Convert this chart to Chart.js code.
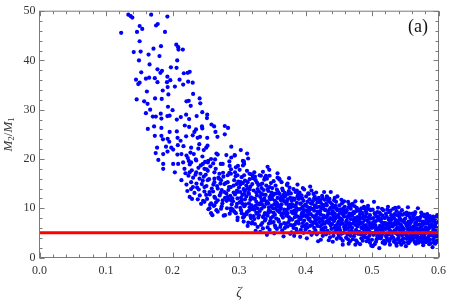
<!DOCTYPE html>
<html>
<head>
<meta charset="utf-8">
<script src="https://cdn.jsdelivr.net/npm/chart.js@4.4.0/dist/chart.umd.min.js"></script>
<style>
  html, body { margin: 0; padding: 0; background: #fff; }
</style>
</head>
<body>
<canvas id="canvas" width="452" height="302"></canvas>
<script>
// tick labels
const zetaTicks = [0, 0.1, 0.2, 0.3, 0.4, 0.5, 0.6];
const ratioTicks = [0, 10, 20, 30, 40, 50];
const zetaMinorStep = 0.02;
const ratioMinorStep = 2;

// red reference line M2/M1 = 5
const lineZeta = [0, 0.6];
const lineRatio = [5, 5];

// points, as zeta, ratio pairs
// sparse upper part of the cloud
const upperPoints = [
  0.1336,49.3, 0.1372,49.0, 0.1396,48.7, 0.1679,49.3, 0.1923,48.9, 0.1228,45.6, 0.1506,47.0, 0.1545,46.4,
  0.1466,45.8, 0.1753,47.1, 0.1778,47.4, 0.1887,45.8, 0.1506,43.9, 0.1417,41.7, 0.1521,41.8, 0.1714,42.4,
  0.1827,42.9, 0.2057,43.2, 0.2086,42.7, 0.2090,42.2, 0.2155,42.2, 0.1640,41.2, 0.1804,40.9, 0.1496,40.0,
  0.2071,40.0, 0.1655,39.2, 0.1976,38.6, 0.2061,38.5, 0.1774,38.2, 0.1530,37.6, 0.1842,37.9, 0.1818,37.5,
  0.2170,37.4, 0.2229,37.5, 0.2259,37.7, 0.1451,36.1, 0.1506,35.5, 0.1485,35.2, 0.1600,36.3, 0.1649,36.5,
  0.1734,36.4, 0.1774,35.6, 0.1923,36.7, 0.1967,36.0, 0.1917,35.6, 0.2106,36.1, 0.2161,35.1, 0.2235,35.7,
  0.2304,35.5, 0.2036,34.7, 0.1927,34.6, 0.1853,33.9, 0.1938,33.1, 0.1615,33.7, 0.2310,33.2, 0.2244,31.8,
  0.2408,32.3, 0.1461,32.1, 0.1574,31.7, 0.1625,31.2, 0.1838,32.2, 0.1738,32.3, 0.1932,30.6, 0.2210,31.7,
  0.2418,31.3, 0.2274,30.8, 0.2001,29.9, 0.1664,30.0, 0.1600,29.3, 0.1749,28.6, 0.1704,28.6, 0.1823,29.2,
  0.1833,28.2, 0.1923,28.7, 0.1957,28.8, 0.2125,28.5, 0.2065,28.0, 0.2205,29.0, 0.2363,28.7, 0.2448,29.5,
  0.2522,29.0, 0.2250,28.1, 0.1629,26.1, 0.1723,26.6, 0.1833,26.3, 0.1957,25.5, 0.2065,25.6, 0.2185,26.8,
  0.2250,26.5, 0.2354,26.0, 0.2443,26.6, 0.2586,27.0, 0.2626,26.6, 0.2676,24.5, 0.1734,24.7, 0.1833,24.7,
  0.1857,24.0, 0.1927,24.1, 0.1952,23.5, 0.2076,24.3, 0.2121,23.7, 0.2205,24.6, 0.2304,24.8, 0.2329,25.5,
  0.2378,24.3, 0.2522,24.3, 0.2507,22.3, 0.1768,22.3, 0.1902,22.5, 0.1982,22.3, 0.2080,22.8, 0.2165,22.6,
  0.2280,22.3, 0.2388,22.1, 0.2518,28.3, 0.2448,26.2, 0.2646,25.5, 0.2786,26.7, 0.2835,26.3, 0.2786,25.0,
  0.2884,22.5, 0.2414,24.5, 0.2403,23.0, 0.2470,21.8, 0.2527,22.7, 0.3122,21.1, 0.3137,20.1, 0.3430,18.4,
  0.3455,17.8, 0.3579,17.1, 0.3753,16.1, 0.2661,21.1, 0.2810,20.8, 0.2884,20.3, 0.2935,20.8, 0.3073,19.5,
  0.2537,19.6, 0.2612,19.1, 0.2726,19.0, 0.2860,18.6, 0.2984,18.6, 0.3058,19.6, 0.3158,17.0, 0.3207,16.6,
  0.3330,16.6, 0.3405,16.6, 0.3604,16.0
];

// middle part, zeta 0.17 - 0.31
const middlePoints = [
  0.1747,21.2, 0.1860,21.0, 0.1925,21.5, 0.2010,21.9, 0.2074,20.9, 0.2134,21.0, 0.2210,20.7, 0.2270,21.3,
  0.2680,20.9, 0.2937,20.7, 0.3027,21.8, 0.1787,19.8, 0.1860,19.0, 0.2010,19.0, 0.2085,19.0, 0.2160,19.3,
  0.2280,19.3, 0.2357,19.7, 0.2457,19.0, 0.2530,19.3, 0.2580,20.0, 0.2755,19.0, 0.2855,19.5, 0.2953,18.3,
  0.3077,19.0, 0.1860,18.0, 0.2035,17.3, 0.2180,18.0, 0.2258,17.3, 0.2357,17.3, 0.2480,18.0, 0.2630,17.3,
  0.2705,17.0, 0.2878,17.0, 0.2977,16.7, 0.3077,16.7, 0.2134,15.7, 0.2280,15.3, 0.2407,16.0, 0.2530,15.7,
  0.2630,16.0, 0.2730,15.7, 0.2830,15.3, 0.2928,15.7, 0.3027,15.3, 0.2223,13.5, 0.2307,14.3, 0.2480,14.3,
  0.2556,13.3, 0.2680,14.0, 0.2780,13.3, 0.2878,14.3, 0.2977,13.3, 0.3077,13.7, 0.2258,12.3, 0.2506,12.7,
  0.2630,12.3, 0.2830,12.3, 0.2977,12.0, 0.2293,11.9, 0.2480,11.3, 0.2556,10.0, 0.2630,10.6, 0.2680,9.3,
  0.2580,9.0, 0.2790,8.6, 0.2878,10.0, 0.2977,7.6, 0.2953,9.0, 0.3077,8.3, 0.2755,11.6, 0.2878,11.6,
  0.3027,11.3,
  0.221,14.8, 0.224,16.6, 0.226,18.9, 0.228,13.9, 0.223,20.2, 0.229,17.7,
  0.231,16.2, 0.233,13.1, 0.235,19.9, 0.236,15.0, 0.238,11.8, 0.239,18.2, 0.232,21.0, 0.237,14.2,
  0.241,12.6, 0.242,17.0, 0.244,14.9, 0.245,20.5, 0.246,11.5, 0.247,16.4, 0.248,13.4, 0.249,19.4, 0.243,10.9,
  0.251,14.5, 0.252,11.9, 0.253,17.6, 0.254,9.8, 0.255,15.9, 0.256,12.8, 0.257,18.5, 0.258,11.0, 0.259,14.0, 0.250,16.8,
  0.261,13.4, 0.262,10.5, 0.263,15.3, 0.264,12.1, 0.265,18.0, 0.266,9.6, 0.267,14.5, 0.268,11.6, 0.269,16.2, 0.260,8.6, 0.264,19.9,
  0.271,12.6, 0.272,15.0, 0.273,9.9, 0.274,13.7, 0.275,11.0, 0.276,17.2, 0.277,8.5, 0.278,14.9, 0.279,12.1, 0.270,16.0, 0.274,10.4,
  0.281,13.0, 0.282,10.0, 0.283,16.7, 0.284,11.8, 0.285,14.3, 0.286,8.9, 0.287,12.5, 0.288,17.9, 0.289,10.8, 0.280,15.1, 0.284,13.7, 0.288,9.5,
  0.291,11.4, 0.292,14.6, 0.293,9.3, 0.294,12.8, 0.295,16.5, 0.296,10.3, 0.297,13.6, 0.298,8.1, 0.299,15.4, 0.290,12.0, 0.294,17.3, 0.297,10.9, 0.292,13.2,
  0.2195,17.1, 0.2245,19.6, 0.2345,16.8, 0.2395,13.8, 0.2425,18.7, 0.2455,15.6, 0.2515,17.9, 0.2565,10.7,
  0.2615,14.8, 0.2655,11.2, 0.2725,13.1, 0.2765,16.4, 0.2815,11.5, 0.2855,17.2, 0.2905,9.8, 0.2965,14.9
];

// dense tail, zeta 0.30 - 0.60
const tailPoints = [
  0.301,11.2, 0.302,14.8, 0.303,9.6, 0.304,16.3, 0.305,12.7, 0.306,8.1, 0.307,13.9, 0.308,10.4, 0.309,15.6, 0.301,17.8, 0.303,12.1, 0.305,10.9, 0.307,7.3, 0.309,11.8, 0.302,13.3, 0.304,9.0, 0.306,15.1, 0.308,12.9, 0.300,14.2, 0.306,18.7, 0.308,8.7, 0.304,11.5, 0.302,10.1, 0.309,13.6,
  0.311,12.4, 0.312,9.2, 0.313,15.3, 0.314,7.1, 0.315,11.0, 0.316,13.8, 0.317,8.5, 0.318,16.9, 0.319,10.6, 0.311,14.6, 0.313,6.4, 0.315,12.9, 0.317,11.7, 0.319,9.8, 0.312,17.6, 0.314,13.1, 0.316,10.2, 0.318,8.0, 0.310,10.8, 0.313,14.0, 0.316,15.9, 0.318,12.2, 0.319,6.9, 0.311,8.8, 0.315,9.5, 0.317,14.4,
  0.321,10.1, 0.322,13.6, 0.323,7.8, 0.324,11.9, 0.325,15.7, 0.326,9.1, 0.327,12.6, 0.328,6.2, 0.329,10.9, 0.320,14.9, 0.322,8.4, 0.324,16.4, 0.326,11.3, 0.328,13.9, 0.321,12.0, 0.323,9.7, 0.325,5.4, 0.327,8.9, 0.329,14.7, 0.320,7.2, 0.323,17.3, 0.325,10.5, 0.327,15.2, 0.329,8.1, 0.321,16.1, 0.324,6.8, 0.326,13.2, 0.328,10.0,
  0.331,9.4, 0.332,12.3, 0.333,6.6, 0.334,14.1, 0.335,10.7, 0.336,8.2, 0.337,11.6, 0.338,15.8, 0.339,7.5, 0.330,13.4, 0.332,5.2, 0.334,9.9, 0.336,12.8, 0.338,10.3, 0.331,16.7, 0.333,11.1, 0.335,7.0, 0.337,13.7, 0.339,9.0, 0.330,8.6, 0.332,14.8, 0.334,11.7, 0.336,5.9, 0.338,12.0, 0.339,16.2, 0.331,10.8, 0.335,15.0, 0.337,8.4, 0.333,13.0, 0.336,17.4,
  0.341,8.8, 0.342,11.4, 0.343,6.1, 0.344,13.5, 0.345,9.6, 0.346,12.2, 0.347,7.4, 0.348,15.1, 0.349,10.5, 0.340,12.7, 0.342,4.6, 0.344,9.1, 0.346,14.3, 0.348,8.0, 0.341,10.9, 0.343,13.9, 0.345,6.9, 0.347,11.8, 0.349,13.2, 0.340,7.8, 0.342,16.0, 0.344,11.0, 0.346,5.6, 0.348,12.6, 0.349,7.1, 0.341,14.6, 0.345,10.2, 0.347,9.3, 0.343,8.5, 0.346,16.6,
  0.351,10.0, 0.352,7.2, 0.353,12.9, 0.354,8.7, 0.355,14.6, 0.356,11.2, 0.357,5.8, 0.358,9.5, 0.359,13.3, 0.350,11.9, 0.352,15.5, 0.354,6.5, 0.356,10.6, 0.358,12.1, 0.351,8.3, 0.353,4.9, 0.355,9.9, 0.357,13.8, 0.359,7.7, 0.350,14.1, 0.352,9.1, 0.354,11.5, 0.356,7.9, 0.358,16.2, 0.359,10.3, 0.351,12.6, 0.355,6.1, 0.357,11.0, 0.353,10.8, 0.356,13.0,
  0.361,9.2, 0.362,12.0, 0.363,6.7, 0.364,10.8, 0.365,14.0, 0.366,8.1, 0.367,4.3, 0.368,11.4, 0.369,13.1, 0.360,7.3, 0.362,9.8, 0.364,15.3, 0.366,11.9, 0.368,7.0, 0.361,12.9, 0.363,10.1, 0.365,5.5, 0.367,9.0, 0.369,12.4, 0.360,10.6, 0.362,6.2, 0.364,8.6, 0.366,13.6, 0.368,9.7, 0.369,6.0, 0.361,15.8, 0.363,11.6, 0.365,8.9, 0.367,12.7, 0.364,12.3,
  0.371,8.5, 0.372,11.3, 0.373,6.3, 0.374,9.9, 0.375,13.5, 0.376,7.6, 0.377,12.1, 0.378,10.2, 0.379,5.1, 0.370,12.6, 0.372,14.7, 0.374,7.1, 0.376,10.7, 0.378,13.0, 0.371,9.6, 0.373,11.8, 0.375,8.2, 0.377,4.8, 0.379,9.3, 0.370,6.8, 0.372,8.9, 0.374,12.9, 0.376,14.2, 0.378,6.6, 0.379,11.5, 0.371,10.9, 0.373,15.0, 0.375,10.4, 0.377,7.9, 0.373,9.0,
  0.381,9.0, 0.382,6.0, 0.383,11.7, 0.384,8.2, 0.385,13.3, 0.386,10.1, 0.387,5.3, 0.388,12.4, 0.389,7.4, 0.380,10.8, 0.382,13.9, 0.384,6.7, 0.386,9.4, 0.388,14.8, 0.381,12.0, 0.383,4.4, 0.385,8.8, 0.387,11.1, 0.389,9.8, 0.380,7.7, 0.382,10.4, 0.384,11.9, 0.386,5.8, 0.388,8.3, 0.389,12.8, 0.381,6.5, 0.385,10.6, 0.387,13.6, 0.383,9.5, 0.386,7.2,
  0.391,8.1, 0.392,10.9, 0.393,5.6, 0.394,12.6, 0.395,9.1, 0.396,7.0, 0.397,11.5, 0.398,13.8, 0.399,6.4, 0.390,11.9, 0.392,4.2, 0.394,8.7, 0.396,10.3, 0.398,9.6, 0.391,13.2, 0.393,7.8, 0.395,12.0, 0.397,5.0, 0.399,10.6, 0.390,6.9, 0.392,12.3, 0.394,10.0, 0.396,14.1, 0.398,7.5, 0.399,8.6, 0.391,9.8, 0.395,6.3, 0.397,9.3, 0.393,11.0, 0.396,8.4,
  0.401,9.5, 0.402,6.8, 0.403,11.3, 0.404,8.0, 0.405,12.9, 0.406,5.2, 0.407,10.1, 0.408,7.3, 0.409,13.6, 0.400,10.7, 0.402,3.9, 0.404,9.2, 0.406,11.8, 0.408,8.8, 0.401,12.4, 0.403,6.1, 0.405,7.7, 0.407,14.4, 0.409,9.9, 0.400,5.7, 0.402,10.4, 0.404,13.0, 0.406,7.9, 0.408,11.0, 0.409,4.6, 0.401,8.3, 0.405,10.0, 0.407,6.4, 0.403,8.6, 0.406,9.6,
  0.411,8.4, 0.412,12.9, 0.413,6.0, 0.414,10.5, 0.415,7.5, 0.416,11.8, 0.417,4.7, 0.418,9.3, 0.419,3.3, 0.410,10.9, 0.412,7.1, 0.414,12.3, 0.416,8.6, 0.418,6.4, 0.411,11.4, 0.413,9.5, 0.415,5.5, 0.417,10.2, 0.419,7.9, 0.410,6.6, 0.412,9.9, 0.414,8.0, 0.416,13.2, 0.418,11.2, 0.419,9.0, 0.411,5.0, 0.415,10.6, 0.417,7.7, 0.413,12.0, 0.416,6.9,
  0.421,9.0, 0.422,6.3, 0.423,11.1, 0.424,7.8, 0.425,10.0, 0.426,4.4, 0.427,8.5, 0.428,13.3, 0.429,6.9, 0.420,12.1, 0.422,9.4, 0.424,5.6, 0.426,10.7, 0.428,8.1, 0.421,7.2, 0.423,3.6, 0.425,12.5, 0.427,10.4, 0.429,9.7, 0.420,8.0, 0.422,11.6, 0.424,9.9, 0.426,7.4, 0.428,5.3, 0.429,11.7, 0.421,10.3, 0.425,6.7, 0.427,5.9, 0.423,8.7, 0.426,12.0,
  0.431,8.2, 0.432,10.6, 0.433,5.4, 0.434,9.3, 0.435,7.0, 0.436,11.9, 0.437,4.1, 0.438,13.3, 0.439,8.9, 0.430,6.1, 0.432,12.4, 0.434,7.6, 0.436,9.8, 0.438,6.5, 0.431,10.9, 0.433,8.6, 0.435,3.5, 0.437,11.2, 0.439,5.8, 0.430,9.6, 0.432,7.3, 0.434,11.5, 0.436,5.0, 0.438,10.1, 0.439,7.8, 0.431,4.7, 0.435,9.0, 0.437,8.0, 0.433,12.2, 0.436,7.1,
  0.441,7.7, 0.442,10.2, 0.443,5.1, 0.444,8.9, 0.445,6.4, 0.446,11.3, 0.447,3.8, 0.448,9.6, 0.449,7.0, 0.440,10.8, 0.442,4.4, 0.444,12.1, 0.446,8.2, 0.448,5.9, 0.441,9.4, 0.443,11.6, 0.445,7.9, 0.447,10.0, 0.449,4.9, 0.440,6.8, 0.442,8.4, 0.444,6.0, 0.446,9.9, 0.448,12.4, 0.449,8.6, 0.441,3.2, 0.445,10.5, 0.447,6.6, 0.443,7.4, 0.446,5.4,
  0.451,8.0, 0.452,5.5, 0.453,9.8, 0.454,7.1, 0.455,11.0, 0.456,2.6, 0.457,8.7, 0.458,6.2, 0.459,10.3, 0.450,4.3, 0.452,9.1, 0.454,11.7, 0.456,6.9, 0.458,8.3, 0.451,10.6, 0.453,3.9, 0.455,7.6, 0.457,5.0, 0.459,9.4, 0.450,7.3, 0.452,6.7, 0.454,4.8, 0.456,9.5, 0.458,11.4, 0.459,5.7, 0.451,6.0, 0.455,8.9, 0.457,10.0, 0.453,7.9, 0.456,3.4,
  0.461,7.2, 0.462,9.6, 0.463,4.6, 0.464,8.4, 0.465,6.0, 0.466,10.8, 0.467,3.3, 0.468,7.8, 0.469,5.4, 0.460,9.1, 0.462,5.8, 0.464,11.3, 0.466,7.0, 0.468,9.9, 0.461,4.0, 0.463,8.1, 0.465,10.2, 0.467,6.5, 0.469,8.8, 0.460,6.4, 0.462,7.5, 0.464,3.7, 0.466,5.2, 0.468,4.4, 0.469,10.5, 0.461,9.3, 0.465,2.8, 0.467,8.6, 0.463,6.8, 0.466,8.9,
  0.471,6.9, 0.472,9.2, 0.473,4.3, 0.474,8.0, 0.475,11.4, 0.476,5.6, 0.477,7.4, 0.478,3.1, 0.479,9.7, 0.470,8.5, 0.472,5.1, 0.474,10.4, 0.476,7.9, 0.478,6.3, 0.471,3.7, 0.473,9.0, 0.475,6.6, 0.477,10.1, 0.479,4.8, 0.470,6.0, 0.472,7.7, 0.474,4.9, 0.476,9.4, 0.478,8.2, 0.479,6.8, 0.471,10.9, 0.475,2.6, 0.477,5.3, 0.473,7.2, 0.476,3.5,
  0.481,7.5, 0.482,4.9, 0.483,9.3, 0.484,6.1, 0.485,11.4, 0.486,3.4, 0.487,8.4, 0.488,5.7, 0.489,9.9, 0.480,6.7, 0.482,8.8, 0.484,3.9, 0.486,7.1, 0.488,10.3, 0.481,5.2, 0.483,6.9, 0.485,8.0, 0.487,4.5, 0.489,7.6, 0.480,9.5, 0.482,2.7, 0.484,10.0, 0.486,9.0, 0.488,6.4, 0.489,4.1, 0.481,8.1, 0.485,5.9, 0.487,6.2, 0.483,4.7, 0.486,5.0,
  0.491,6.6, 0.492,8.9, 0.493,4.0, 0.494,7.3, 0.495,5.5, 0.496,9.8, 0.497,3.0, 0.498,7.9, 0.499,5.0, 0.490,8.3, 0.492,6.0, 0.494,10.5, 0.496,4.4, 0.498,6.9, 0.491,9.4, 0.493,7.6, 0.495,3.6, 0.497,8.6, 0.499,6.2, 0.490,4.8, 0.492,3.3, 0.494,5.9, 0.496,7.0, 0.498,9.6, 0.499,2.4, 0.491,5.4, 0.495,8.1, 0.497,6.5, 0.493,10.0, 0.496,5.3,
  0.501,7.0, 0.502,4.6, 0.503,11.3, 0.504,6.3, 0.505,8.7, 0.506,3.2, 0.507,5.8, 0.508,9.2, 0.509,4.0, 0.500,6.0, 0.502,8.0, 0.504,2.7, 0.506,7.4, 0.508,5.3, 0.501,9.7, 0.503,5.0, 0.505,6.6, 0.507,3.7, 0.509,7.7, 0.500,3.6, 0.502,6.8, 0.504,9.0, 0.506,5.6, 0.508,4.3, 0.509,10.1, 0.501,2.3, 0.505,4.9, 0.507,8.3, 0.503,7.3, 0.506,6.1,
  0.511,1.9, 0.512,6.4, 0.513,8.8, 0.514,4.2, 0.515,7.1, 0.516,5.4, 0.517,9.6, 0.518,3.4, 0.519,6.7, 0.510,8.2, 0.512,4.8, 0.514,7.8, 0.516,3.0, 0.518,5.9, 0.511,6.0, 0.513,3.9, 0.515,9.9, 0.517,5.0, 0.519,8.0, 0.510,4.5, 0.512,7.5, 0.514,5.7, 0.516,8.5, 0.518,7.0, 0.519,2.8, 0.511,9.1, 0.515,4.6, 0.517,6.9, 0.513,5.6, 0.516,6.3,
  0.521,5.8, 0.522,8.3, 0.523,3.6, 0.524,6.9, 0.525,4.7, 0.526,9.2, 0.527,2.6, 0.528,7.4, 0.529,5.2, 0.520,7.0, 0.522,4.1, 0.524,10.3, 0.526,6.2, 0.528,3.8, 0.521,8.9, 0.523,6.5, 0.525,7.7, 0.527,5.5, 0.529,8.6, 0.520,3.0, 0.522,6.0, 0.524,4.9, 0.526,3.3, 0.528,9.5, 0.529,6.8, 0.521,4.4, 0.525,5.9, 0.527,7.1, 0.523,9.7, 0.526,7.9,
  0.531,6.3, 0.532,4.0, 0.533,8.1, 0.534,5.5, 0.535,7.2, 0.536,2.9, 0.537,9.4, 0.538,6.0, 0.539,4.6, 0.530,7.8, 0.532,9.9, 0.534,3.5, 0.536,6.7, 0.538,8.6, 0.531,5.0, 0.533,3.2, 0.535,10.1, 0.537,5.8, 0.539,7.4, 0.530,4.3, 0.532,6.6, 0.534,8.8, 0.536,4.9, 0.538,3.7, 0.539,6.1, 0.531,8.4, 0.535,5.3, 0.537,2.4, 0.533,6.9, 0.536,7.6,
  0.540,10.2, 0.541,5.6, 0.542,7.9, 0.543,3.4, 0.544,6.4, 0.545,4.5, 0.546,8.7, 0.547,5.2, 0.548,3.0, 0.549,7.1, 0.540,4.0, 0.542,9.0, 0.544,2.6, 0.546,6.0, 0.548,7.6, 0.541,8.3, 0.543,6.7, 0.545,9.6, 0.547,3.9, 0.549,5.0, 0.540,6.9, 0.542,4.8, 0.544,7.5, 0.546,3.6, 0.548,5.8, 0.549,8.9, 0.541,3.1, 0.545,6.2, 0.547,7.3, 0.543,5.4,
  0.551,2.3, 0.552,6.5, 0.553,4.3, 0.554,10.2, 0.555,7.3, 0.556,5.1, 0.557,8.2, 0.558,3.5, 0.559,6.1, 0.550,7.9, 0.552,3.8, 0.554,5.7, 0.556,8.9, 0.558,4.7, 0.551,6.9, 0.553,8.6, 0.555,2.9, 0.557,5.4, 0.559,7.7, 0.550,5.0, 0.552,9.1, 0.554,3.1, 0.556,6.7, 0.558,7.0, 0.559,4.2, 0.551,4.6, 0.555,5.9, 0.557,3.3, 0.553,6.3, 0.556,3.9,
  0.561,6.0, 0.562,3.7, 0.563,7.8, 0.564,5.0, 0.565,9.2, 0.566,2.8, 0.567,6.6, 0.568,4.4, 0.569,10.0, 0.560,5.5, 0.562,8.4, 0.564,3.2, 0.566,7.1, 0.568,5.9, 0.561,4.1, 0.563,6.3, 0.565,3.0, 0.567,8.0, 0.569,5.2, 0.560,7.4, 0.562,5.3, 0.564,8.8, 0.566,4.7, 0.568,7.6, 0.569,3.4, 0.561,8.9, 0.565,6.9, 0.567,4.0, 0.563,4.5, 0.566,5.8,
  0.571,5.1, 0.572,7.5, 0.573,3.3, 0.574,6.2, 0.575,8.6, 0.576,4.4, 0.577,2.5, 0.578,6.8, 0.579,5.6, 0.570,8.0, 0.572,4.0, 0.574,9.1, 0.576,7.0, 0.578,3.6, 0.571,6.7, 0.573,5.4, 0.575,3.9, 0.577,7.3, 0.579,8.3, 0.570,3.0, 0.572,5.9, 0.574,4.7, 0.576,5.7, 0.578,8.7, 0.579,4.2, 0.571,7.9, 0.575,6.4, 0.577,4.9, 0.573,8.2, 0.576,3.1,
  0.581,6.1, 0.582,3.8, 0.583,8.8, 0.584,5.3, 0.585,7.2, 0.586,2.7, 0.587,6.5, 0.588,4.6, 0.589,8.0, 0.580,4.9, 0.582,7.7, 0.584,3.4, 0.586,6.0, 0.588,7.5, 0.581,3.1, 0.583,5.7, 0.585,4.2, 0.587,8.4, 0.589,5.0, 0.580,7.0, 0.582,5.5, 0.584,8.1, 0.586,4.5, 0.588,2.9, 0.589,6.6, 0.581,8.5, 0.585,5.9, 0.587,3.6, 0.583,6.9, 0.586,7.9,
  0.591,2.1, 0.592,5.6, 0.593,7.4, 0.594,4.1, 0.595,6.6, 0.596,3.3, 0.597,8.1, 0.598,8.6, 0.599,5.0, 0.590,6.8, 0.592,3.7, 0.594,7.8, 0.596,5.3, 0.598,4.4, 0.591,6.2, 0.593,4.8, 0.595,2.8, 0.597,6.0, 0.599,7.2, 0.590,4.5, 0.592,8.3, 0.594,6.0, 0.596,7.0, 0.598,3.2, 0.599,3.8, 0.591,7.6, 0.595,5.2, 0.597,4.3, 0.593,3.0, 0.596,8.0
];

// turn the flat zeta, ratio lists into chart points
function toPoints(flat) {
  let out = [];
  for (let i = 0; i + 1 < flat.length; i += 2) {
    out.push({ x: flat[i], y: flat[i + 1] });
  }
  return out;
}

const serif = '"Liberation Serif", "Times New Roman", serif';
const frameColor = '#7a7a7a';

// frame with inward ticks, panel label and axis titles (Mathematica look)
const framePlugin = {
  id: 'frame',
  afterDatasetsDraw(chart) {
    const ctx = chart.ctx;
    const a = chart.chartArea;
    const xs = chart.scales.x;
    const ys = chart.scales.y;
    ctx.save();
    ctx.strokeStyle = frameColor;
    ctx.lineWidth = 1;
    ctx.strokeRect(a.left, a.top, a.right - a.left, a.bottom - a.top);

    ctx.beginPath();
    let nx = Math.round(xs.max / zetaMinorStep);
    for (let i = 0; i <= nx; i++) {
      let px = Math.round(xs.getPixelForValue(i * zetaMinorStep)) + 0.5;
      let len = i % 5 === 0 ? 5 : 3;
      ctx.moveTo(px, a.bottom); ctx.lineTo(px, a.bottom - len);
      ctx.moveTo(px, a.top); ctx.lineTo(px, a.top + len);
    }
    let ny = Math.round(ys.max / ratioMinorStep);
    for (let i = 0; i <= ny; i++) {
      let py = Math.round(ys.getPixelForValue(i * ratioMinorStep)) + 0.5;
      let len = i % 5 === 0 ? 5 : 3;
      ctx.moveTo(a.left, py); ctx.lineTo(a.left + len, py);
      ctx.moveTo(a.right, py); ctx.lineTo(a.right - len, py);
    }
    ctx.stroke();

    // panel label
    ctx.fillStyle = '#111';
    ctx.font = '18px ' + serif;
    ctx.textAlign = 'center';
    ctx.textBaseline = 'middle';
    ctx.fillText('(a)', 418, 27);

    // x title
    ctx.fillStyle = '#333';
    ctx.font = 'italic 14px ' + serif;
    ctx.fillText('ζ', (a.left + a.right) / 2, 293);

    // y title M2/M1 with subscripts, rotated
    ctx.translate(9, (a.top + a.bottom) / 2);
    ctx.rotate(-Math.PI / 2);
    const big = 'italic 13px ' + serif;
    const small = '9px ' + serif;
    const parts = [
      ['M', big, 0], ['2', small, 3], ['/', '13px ' + serif, 0], ['M', big, 0], ['1', small, 3]
    ];
    let total = 0;
    for (const p of parts) { ctx.font = p[1]; total += ctx.measureText(p[0]).width; }
    let cx = -total / 2;
    ctx.textAlign = 'left';
    for (const p of parts) {
      ctx.font = p[1];
      ctx.fillText(p[0], cx, p[2]);
      cx += ctx.measureText(p[0]).width;
    }
    ctx.restore();
  }
};

const pointStyle = {
  type: 'scatter',
  backgroundColor: '#0000ff',
  borderWidth: 0,
  pointRadius: 2.1,
  pointHoverRadius: 2.1,
  clip: 0,
  order: 1
};

const chart = new Chart(document.getElementById('canvas'), {
  type: 'scatter',
  data: {
    datasets: [
      Object.assign({ label: 'upper', data: toPoints(upperPoints) }, pointStyle),
      Object.assign({ label: 'middle', data: toPoints(middlePoints) }, pointStyle),
      Object.assign({ label: 'tail', data: toPoints(tailPoints) }, pointStyle),
      {
        type: 'line',
        label: 'M2/M1 = 5',
        data: lineZeta.map((z, i) => ({ x: z, y: lineRatio[i] })),
        borderColor: '#ff0000',
        borderWidth: 3,
        pointRadius: 0,
        fill: false,
        clip: 0,
        order: 0
      }
    ]
  },
  options: {
    responsive: false,
    devicePixelRatio: 1,
    animation: false,
    events: [],
    layout: { padding: { top: 8.5, right: 9.5, left: 0, bottom: 0 } },
    plugins: { legend: { display: false }, tooltip: { enabled: false } },
    scales: {
      x: {
        type: 'linear',
        min: 0,
        max: 0.6,
        afterBuildTicks: s => { s.ticks = zetaTicks.map(v => ({ value: v })); },
        afterFit: s => { s.height = 44.5; },
        grid: { display: false, drawTicks: false },
        border: { display: false },
        ticks: {
          padding: 6,
          maxRotation: 0,
          font: { family: serif, size: 12 },
          color: '#333',
          callback: v => v.toFixed(1)
        }
      },
      y: {
        type: 'linear',
        min: 0,
        max: 50,
        afterBuildTicks: s => { s.ticks = ratioTicks.map(v => ({ value: v })); },
        afterFit: s => { s.width = 39.5; },
        grid: { display: false, drawTicks: false },
        border: { display: false },
        ticks: {
          padding: 4,
          font: { family: serif, size: 12 },
          color: '#333',
          callback: v => String(v)
        }
      }
    }
  },
  plugins: [framePlugin]
});
</script>
</body>
</html>
